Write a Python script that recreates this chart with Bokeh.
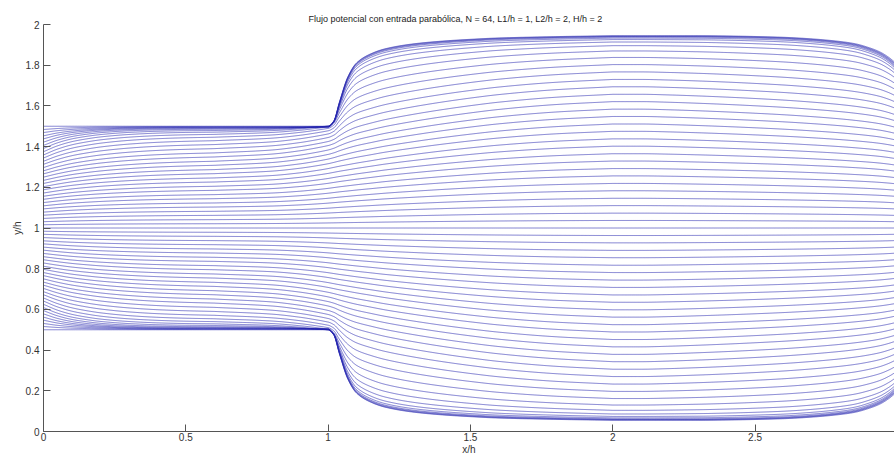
import numpy as np
from bokeh.plotting import figure
from bokeh.models import Range1d, FixedTicker
from bokeh.embed import file_html
from bokeh.resources import INLINE

# ---------------- data ----------------
title_text = "Flujo potencial con entrada parabólica, N = 64, L1/h = 1, L2/h = 2, H/h = 2"
x_ticks = [0, 0.5, 1, 1.5, 2, 2.5]
x_tick_labels = ["0", "0.5", "1", "1.5", "2", "2.5"]
y_ticks = [0, 0.2, 0.4, 0.6, 0.8, 1.0, 1.2, 1.4, 1.6, 1.8, 2.0]
y_tick_labels = ["0", "0.2", "0.4", "0.6", "0.8", "1", "1.2", "1.4", "1.6", "1.8", "2"]

# upper-half streamlines, index 0 = centreline ... 32 = line along the wall
# y at the inlet x = 0
y_inlet = [1.000, 1.016, 1.031, 1.047, 1.063, 1.078, 1.094, 1.109, 1.125, 1.141,
           1.156, 1.172, 1.188, 1.203, 1.219, 1.234, 1.250, 1.266, 1.281, 1.297,
           1.313, 1.328, 1.344, 1.359, 1.375, 1.391, 1.406, 1.422, 1.438, 1.453,
           1.469, 1.484, 1.500]
# y in the narrow channel (x about 0.6 - 0.9)
y_narrow = [1.000, 1.021, 1.041, 1.062, 1.082, 1.103, 1.123, 1.144, 1.164, 1.185,
            1.205, 1.226, 1.246, 1.267, 1.287, 1.308, 1.328, 1.349, 1.369, 1.390,
            1.410, 1.429, 1.446, 1.460, 1.471, 1.479, 1.485, 1.489, 1.492, 1.494,
            1.496, 1.498, 1.500]
# y in the wide channel (x about 2)
y_wide = [1.000, 1.037, 1.073, 1.110, 1.146, 1.183, 1.219, 1.256, 1.292, 1.329,
          1.365, 1.402, 1.438, 1.475, 1.511, 1.548, 1.584, 1.621, 1.657, 1.694,
          1.730, 1.767, 1.803, 1.838, 1.870, 1.896, 1.914, 1.926, 1.933, 1.938,
          1.941, 1.943, 1.945]
# y at the right edge of the picture (x about 2.99)
y_end = [1.000, 1.031, 1.062, 1.094, 1.124, 1.156, 1.186, 1.218, 1.248, 1.280,
         1.310, 1.342, 1.372, 1.404, 1.434, 1.466, 1.496, 1.528, 1.558, 1.590,
         1.621, 1.652, 1.683, 1.712, 1.740, 1.762, 1.777, 1.788, 1.795, 1.800,
         1.805, 1.809, 1.815]
# how closely each line follows the wall line (0 = centre-like, 1 = wall-like)
wall_weight = [0.0, 0.0, 0.0, 0.0, 0.0, 0.0, 0.0, 0.0, 0.0, 0.0,
               0.0, 0.0, 0.0, 0.02, 0.04, 0.07, 0.10, 0.14, 0.19, 0.25,
               0.32, 0.40, 0.49, 0.59, 0.69, 0.78, 0.86, 0.92, 0.96, 0.98,
               0.99, 1.0, 1.0]

# progress of the inlet adjustment (x = 0 -> narrow channel)
x_inlet = [0.0, 0.05, 0.1, 0.15, 0.2, 0.3, 0.4, 0.5, 0.6]
v_centre = [0.0, 0.20, 0.37, 0.50, 0.61, 0.77, 0.88, 0.95, 1.0]
v_wall = [0.0, 0.35, 0.58, 0.72, 0.82, 0.93, 0.98, 1.0, 1.0]

# progress of the expansion (narrow -> wide channel)
x_expand = [0.6, 0.8, 0.9, 0.95, 1.0, 1.02, 1.04, 1.07, 1.1, 1.15, 1.2, 1.3,
            1.4, 1.5, 1.6, 1.8, 2.0]
t_centre = [0.0, 0.06, 0.13, 0.18, 0.24, 0.27, 0.30, 0.34, 0.38, 0.44, 0.50, 0.60,
            0.69, 0.77, 0.84, 0.94, 1.0]
t_wall = [0.0, 0.0, 0.0, 0.0, 0.0, 0.06, 0.27, 0.55, 0.70, 0.80, 0.855, 0.91,
          0.94, 0.96, 0.975, 0.99, 1.0]

# progress of the contraction at the right (wide channel -> right edge)
x_exit = [2.0, 2.1, 2.2, 2.3, 2.4, 2.5, 2.6, 2.7, 2.8, 2.85, 2.9, 2.94, 2.97, 2.99, 3.0]
u_centre = [0.0, 0.0, 0.04, 0.10, 0.17, 0.25, 0.34, 0.45, 0.58, 0.66, 0.75, 0.84, 0.93, 1.0, 1.03]
u_wall = [0.0, 0.0, 0.0, 0.0, 0.01, 0.03, 0.06, 0.12, 0.22, 0.30, 0.45, 0.62, 0.82, 1.0, 1.12]


# ---------------- smooth monotone curve through the read profile points ----------------
def pchip(xk, yk, x):
    xk = np.asarray(xk, float)
    yk = np.asarray(yk, float)
    h = np.diff(xk)
    d = np.diff(yk) / h
    n = len(xk)
    m = np.zeros(n)
    m[0], m[-1] = d[0], d[-1]
    for k in range(1, n - 1):
        if d[k - 1] * d[k] > 0:
            w1 = 2 * h[k] + h[k - 1]
            w2 = h[k] + 2 * h[k - 1]
            m[k] = (w1 + w2) / (w1 / d[k - 1] + w2 / d[k])
    xc = np.clip(x, xk[0], xk[-1])
    i = np.clip(np.searchsorted(xk, xc) - 1, 0, n - 2)
    s = (xc - xk[i]) / h[i]
    h00 = 2 * s**3 - 3 * s**2 + 1
    h10 = s**3 - 2 * s**2 + s
    h01 = -2 * s**3 + 3 * s**2
    h11 = s**3 - s**2
    return h00 * yk[i] + h10 * h[i] * m[i] + h01 * yk[i + 1] + h11 * h[i] * m[i + 1]


xg = np.linspace(0.0, 3.0, 1501)
vc = pchip(x_inlet, v_centre, xg)
vw = pchip(x_inlet, v_wall, xg)
tc = pchip(x_expand, t_centre, xg)
tw = pchip(x_expand, t_wall, xg)
uc = pchip(x_exit, u_centre, xg)
uw = pchip(x_exit, u_wall, xg)

xs, ys = [], []
for j in range(len(y_inlet)):
    w = wall_weight[j]
    v = (1 - w) * vc + w * vw
    t = (1 - w) * tc + w * tw
    u = (1 - w) * uc + w * uw
    y = (y_inlet[j] + (y_narrow[j] - y_inlet[j]) * v
         + (y_wide[j] - y_narrow[j]) * t + (y_end[j] - y_wide[j]) * u)
    xs.append(xg)
    ys.append(y)
    if j > 0:
        xs.append(xg)
        ys.append(2.0 - y)

# ---------------- figure ----------------
p = figure(width=894, height=457, output_backend="svg", toolbar_location=None,
           x_range=Range1d(0, 2.990), y_range=Range1d(0, 2),
           min_border_left=43, min_border_right=0, min_border_top=24,
           min_border_bottom=26, title=title_text)

p.multi_line(xs, ys, line_color="#2626b0", line_width=0.6)

p.title.align = "left"
p.title.offset = 265
p.title.text_font = "Liberation Sans"
p.title.text_font_size = "9px"
p.title.text_font_style = "normal"
p.title.text_color = "#222222"
p.title.standoff = 2

p.outline_line_color = None
p.xgrid.grid_line_color = None
p.ygrid.grid_line_color = None
p.background_fill_color = "white"
p.border_fill_color = "white"

p.xaxis.ticker = FixedTicker(ticks=x_ticks)
p.yaxis.ticker = FixedTicker(ticks=y_ticks)
p.xaxis.major_label_overrides = {t: l for t, l in zip(x_ticks, x_tick_labels)}
p.yaxis.major_label_overrides = {t: l for t, l in zip(y_ticks, y_tick_labels)}
p.xaxis.axis_label = "x/h"
p.yaxis.axis_label = "y/h"

for ax in (p.xaxis[0], p.yaxis[0]):
    ax.axis_line_color = "#555555"
    ax.axis_line_width = 1
    ax.major_tick_line_color = "#555555"
    ax.major_tick_in = 7
    ax.major_tick_out = 0
    ax.minor_tick_line_color = None
    ax.major_label_text_font = "Liberation Sans"
    ax.major_label_text_font_size = "10px"
    ax.major_label_text_color = "#333333"
    ax.axis_label_text_font = "Liberation Sans"
    ax.axis_label_text_font_size = "10px"
    ax.axis_label_text_font_style = "normal"
    ax.axis_label_text_color = "#333333"

p.xaxis.major_label_standoff = 1
p.xaxis.axis_label_standoff = 0
p.yaxis.major_label_standoff = 4
p.yaxis.axis_label_standoff = 0

open("out.html", "w").write(file_html(p, INLINE))
